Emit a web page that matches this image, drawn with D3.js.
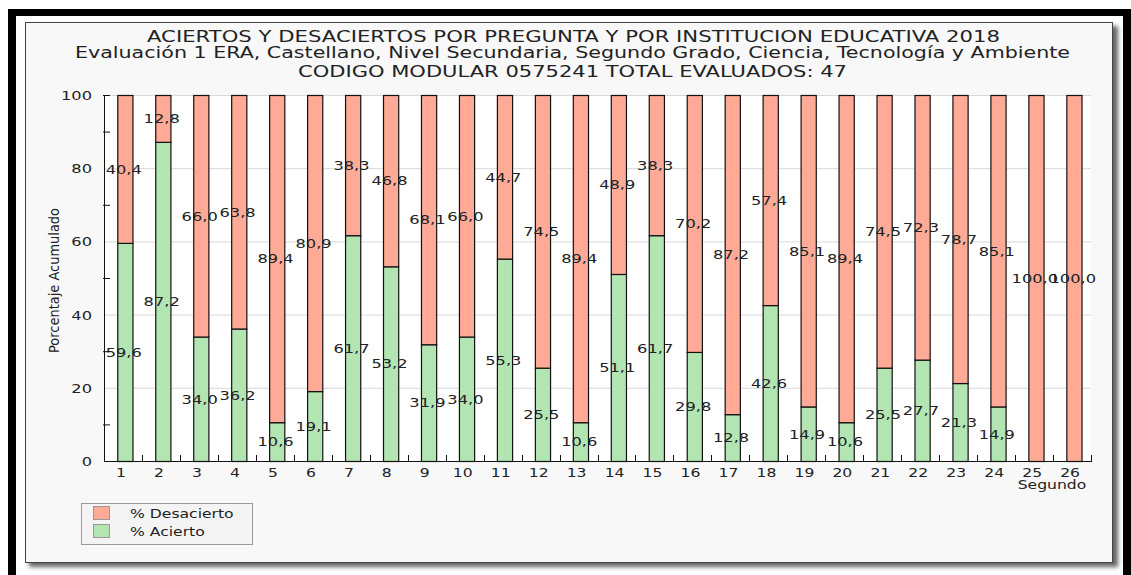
<!DOCTYPE html>
<html>
<head>
<meta charset="utf-8">
<script src="https://cdn.jsdelivr.net/npm/d3@7/dist/d3.min.js"></script>
<style>
body{margin:0;background:#fff;}
text{font-family:"DejaVu Sans",sans-serif;fill:#222;}
</style>
</head>
<body>
<div id="chart"></div>
<script>
var preguntas=["1","2","3","4","5","6","7","8","9","10","11","12","13","14","15","16","17","18","19","20","21","22","23","24","25","26"]
var acierto=[59.6,87.2,34.0,36.2,10.6,19.1,61.7,53.2,31.9,34.0,55.3,25.5,10.6,51.1,61.7,29.8,12.8,42.6,14.9,10.6,25.5,27.7,21.3,14.9,0,0]
var desacierto=[40.4,12.8,66.0,63.8,89.4,80.9,38.3,46.8,68.1,66.0,44.7,74.5,89.4,48.9,38.3,70.2,87.2,57.4,85.1,89.4,74.5,72.3,78.7,85.1,100.0,100.0]
var yTicks=[0,20,40,60,80,100]
var yMinor=[10,30,50,70,90,100]
var titulo=["ACIERTOS Y DESACIERTOS POR PREGUNTA Y POR INSTITUCION EDUCATIVA 2018",
"Evaluación 1 ERA, Castellano, Nivel Secundaria, Segundo Grado, Ciencia, Tecnología y Ambiente",
"CODIGO MODULAR 0575241 TOTAL EVALUADOS: 47"]
var series=["% Desacierto","% Acierto"]
var ejeX="Segundo"
var ejeY="Porcentaje Acumulado"

tabla()
function tabla(){
var width=1131,height=575
var colDes="#ffaa96",colAc="#b3e5b3"
var sx=1.25   // el texto del original sale ensanchado

var svg=d3.select("#chart").append("svg")
	.attr("width",width)
	.attr("height",height)

// marco negro
svg.append("rect").attr("x",8).attr("y",9).attr("width",1123).attr("height",7).attr("fill","#000")
svg.append("rect").attr("x",8).attr("y",9).attr("width",8).attr("height",566).attr("fill","#000")
svg.append("rect").attr("x",1123).attr("y",9).attr("width",8).attr("height",566).attr("fill","#000")

// sombra + panel
var defs=svg.append("defs")
defs.append("filter").attr("id","blur").append("feGaussianBlur").attr("stdDeviation",2)
svg.append("rect").attr("x",29).attr("y",26).attr("width",1089).attr("height",541)
	.attr("fill","#666").attr("filter","url(#blur)")
svg.append("rect").attr("x",25.5).attr("y",22.5).attr("width",1087).attr("height",540)
	.attr("fill","#f8f8f8").attr("stroke","#444")

function txt(g,x,y,s,size,anchor){
	return g.append("text")
		.attr("transform","translate("+x+","+y+") scale("+sx+",1)")
		.attr("text-anchor",anchor)
		.attr("font-size",size)
		.text(s)
}

// titulo
var tcx=[573.5,572.5,572.5],tby=[41.7,58.3,76.7],tlen=[853,995,549]
for(var i=0;i<titulo.length;i++){
	svg.append("text")
		.attr("x",tcx[i]-tlen[i]/2)
		.attr("y",tby[i])
		.attr("font-size","16px")
		.attr("textLength",tlen[i])
		.attr("lengthAdjust","spacingAndGlyphs")
		.text(titulo[i])
}

var margin={left:104,top:95,right:1091,bottom:461}
var x=d3.scaleBand().domain(preguntas).range([margin.left,margin.right])
var y=d3.scaleLinear().domain([0,100]).range([margin.bottom,margin.top])
var bw=x.bandwidth()

svg.append("rect").attr("x",margin.left).attr("y",margin.top)
	.attr("width",margin.right-margin.left).attr("height",margin.bottom-margin.top)
	.attr("fill","#fff")

svg.selectAll(".grid")
	.data(yTicks.slice(1))
	.enter()
	.append("line")
	.attr("x1",margin.left).attr("x2",margin.right)
	.attr("y1",function(d){return y(d)+0.5})
	.attr("y2",function(d){return y(d)+0.5})
	.attr("stroke","#d8d8d8")

var rows=preguntas.map(function(p,i){return {p:p,acierto:acierto[i],desacierto:desacierto[i]}})
var stack=d3.stack().keys(["acierto","desacierto"])(rows)
var colores={acierto:colAc,desacierto:colDes}
var fmt=function(v){return d3.format(".1f")(v).replace(".",",")}

var capas=svg.selectAll(".capa")
	.data(stack)
	.enter()
	.append("g")
	.attr("fill",function(d){return colores[d.key]})
capas.selectAll("rect")
	.data(function(d){return d.filter(function(e){return e[1]-e[0]>0})})
	.enter()
	.append("rect")
	   .attr("x",function(d){return x(d.data.p)+bw*0.35+0.5})
	   .attr("y",function(d){return y(d[1])+0.5})
	   .attr("width",bw*0.4)
	   .attr("height",function(d){return y(d[0])-y(d[1])})
	   .attr("stroke","#111")
	   .attr("stroke-width",1.2)

// etiquetas de valores
stack.forEach(function(s){
	s.forEach(function(d){
		var v=d[1]-d[0]
		if(v<=0) return
		txt(svg,x(d.data.p)+bw*0.52,y((d[0]+d[1])/2)+4.8,fmt(v),"13px","middle")
	})
})

// ejes
svg.append("line").attr("x1",margin.left+0.5).attr("x2",margin.left+0.5)
	.attr("y1",margin.top).attr("y2",margin.bottom+1).attr("stroke","#111")
svg.append("line").attr("x1",margin.left).attr("x2",margin.right+1)
	.attr("y1",margin.bottom+0.5).attr("y2",margin.bottom+0.5).attr("stroke","#111")

svg.selectAll(".ytick")
	.data(yMinor)
	.enter()
	.append("line")
	.attr("x1",margin.left-1).attr("x2",margin.left+6)
	.attr("y1",function(d){return y(d)+0.5})
	.attr("y2",function(d){return y(d)+0.5})
	.attr("stroke","#111")

yTicks.forEach(function(t){
	txt(svg,92,y(t)+5,String(t),"13px","end")
})

svg.selectAll(".xtick")
	.data(preguntas)
	.enter()
	.append("line")
	.attr("x1",function(d){return Math.round(x(d)+bw)+0.5})
	.attr("x2",function(d){return Math.round(x(d)+bw)+0.5})
	.attr("y1",margin.bottom).attr("y2",margin.bottom-6)
	.attr("stroke","#111")

preguntas.forEach(function(p){
	txt(svg,x(p)+bw*0.45,477,p,"12.5px","middle")
})
txt(svg,1052,489,ejeX,"12.5px","middle")

svg.append("text")
	.attr("transform","translate(59,"+(280.5+72.5)+") rotate(-90)")
	.attr("font-family","Liberation Sans, sans-serif")
	.attr("font-size","14px")
	.attr("textLength",145)
	.attr("lengthAdjust","spacingAndGlyphs")
	.text(ejeY)

// leyenda
var ley=svg.append("g")
ley.append("rect").attr("x",81.5).attr("y",503.5).attr("width",171).attr("height",41)
	.attr("fill","#f4f4f4").attr("stroke","#999")
var lcol=[colDes,colAc]
for(var i=0;i<series.length;i++){
	ley.append("rect")
	   .attr("x",93.5)
	   .attr("y",506.5+i*18)
	   .attr("width",16)
	   .attr("height",13)
	   .attr("fill",lcol[i])
	   .attr("stroke","#999")
	txt(ley,130,518+i*18,series[i],"12.5px","start")
}
}
</script>
</body>
</html>
